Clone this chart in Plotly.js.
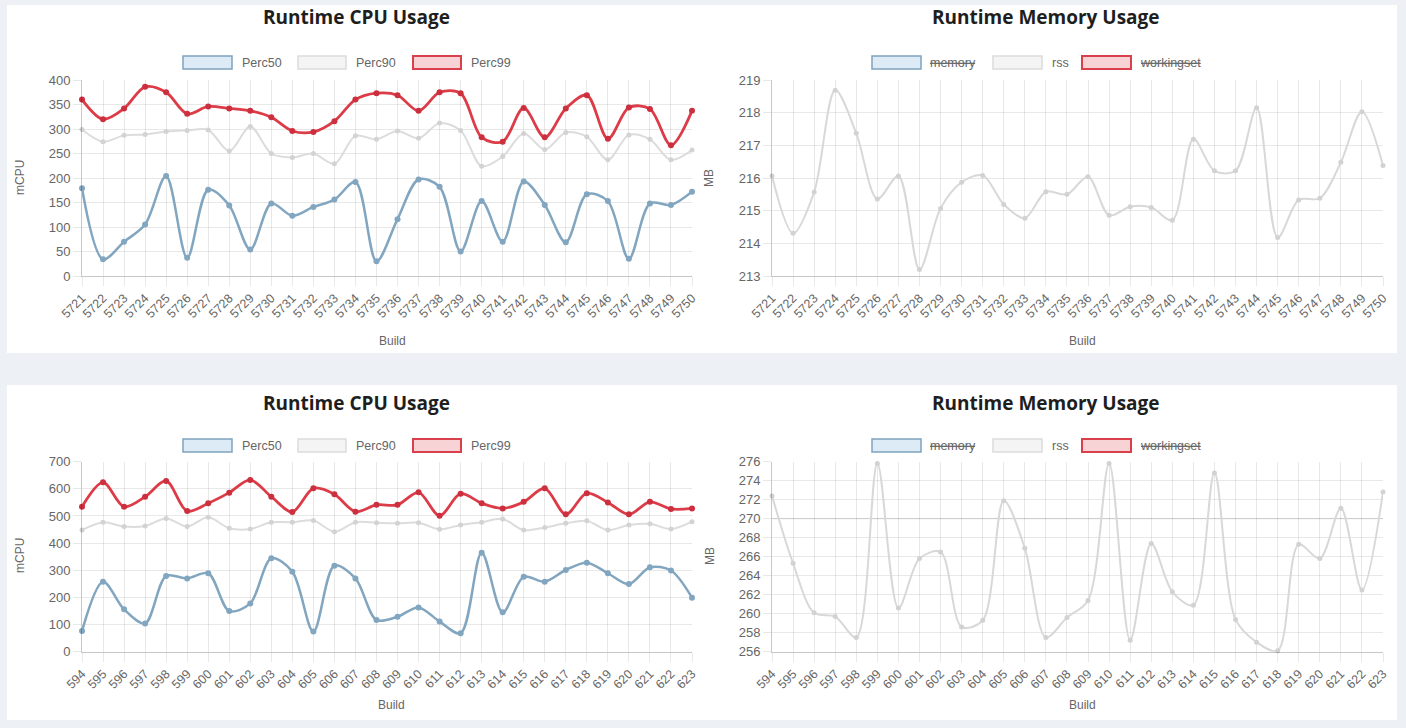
<!DOCTYPE html>
<html>
<head>
<meta charset="utf-8">
<script src="https://cdn.plot.ly/plotly-3.0.1.min.js"></script>
<style>
  html, body { margin: 0; padding: 0; background: #edf1f6; }
  #chart { width: 1406px; height: 728px; }
</style>
</head>
<body>
<div id="chart"></div>
<script>
// ---------- Data ----------
const buildsTop = ['5721','5722','5723','5724','5725','5726','5727','5728','5729','5730',
                   '5731','5732','5733','5734','5735','5736','5737','5738','5739','5740',
                   '5741','5742','5743','5744','5745','5746','5747','5748','5749','5750'];
const buildsBottom = ['594','595','596','597','598','599','600','601','602','603',
                      '604','605','606','607','608','609','610','611','612','613',
                      '614','615','616','617','618','619','620','621','622','623'];

const cpuTopPerc50 = [179, 34, 70, 105, 204, 37, 176, 144, 54, 148,
                      123, 141, 156, 192, 30, 116, 197, 182, 50, 153,
                      70, 193, 145, 69, 167, 153, 35, 148, 145, 172];
const cpuTopPerc90 = [299, 274, 287, 289, 295, 297, 298, 255, 305, 250,
                      242, 250, 229, 286, 279, 296, 281, 312, 297, 224,
                      244, 291, 258, 293, 284, 237, 288, 279, 237, 257];
const cpuTopPerc99 = [360, 320, 342, 386, 375, 331, 346, 342, 337, 324,
                      296, 294, 316, 360, 373, 369, 337, 375, 373, 283,
                      274, 343, 283, 342, 369, 280, 344, 341, 267, 337];

const memTopRss = [216.06, 214.31, 215.57, 218.69, 217.37, 215.36, 216.06, 213.2, 215.07, 215.87,
                   216.08, 215.19, 214.77, 215.58, 215.5, 216.04, 214.86, 215.12, 215.1, 214.71,
                   217.19, 216.22, 216.22, 218.15, 214.18, 215.33, 215.38, 216.48, 218.03, 216.38];

const cpuBottomPerc50 = [76, 258, 156, 104, 279, 270, 289, 150, 178, 344,
                         295, 74, 317, 270, 117, 129, 163, 111, 68, 365,
                         145, 276, 258, 301, 328, 289, 249, 311, 299, 199];
const cpuBottomPerc90 = [448, 477, 461, 463, 491, 461, 495, 455, 452, 477,
                         477, 483, 442, 477, 475, 473, 475, 451, 467, 477,
                         489, 448, 458, 473, 482, 448, 467, 471, 452, 479];
const cpuBottomPerc99 = [534, 624, 534, 571, 629, 518, 547, 586, 633, 571,
                         515, 602, 580, 516, 541, 541, 587, 501, 582, 547,
                         528, 552, 602, 506, 584, 550, 506, 552, 526, 528];

const memBottomRss = [272.4, 265.3, 260.1, 259.7, 257.5, 275.8, 260.6, 265.8, 266.5, 258.6,
                      259.3, 271.9, 266.9, 257.5, 259.6, 261.4, 275.8, 257.2, 267.4, 262.3,
                      260.9, 274.8, 259.4, 257.0, 256.1, 267.3, 265.8, 271.1, 262.5, 272.8];

const cpuSeriesNames = ['Perc50', 'Perc90', 'Perc99'];
const memSeriesNames = ['memory', 'rss', 'workingset'];

// ---------- Styling ----------
const W = 1406, H = 728;
const px = x => x / W;
const py = y => 1 - y / H;

const C_BLUE = '#82a6c0', C_GRAY = '#dcdcdc', C_RED = '#dc3b48';
const C_RED_PT = '#cc2f3e';
const FONT = 'Liberation Sans, Arial, sans-serif';
const TICKCOL = '#666';
const GRID = 'rgba(0,0,0,0.09)';

function line(x, y, color, width, mcolor, msize, xa, ya, name) {
  return {
    type: 'scatter', mode: 'lines+markers', x: x, y: y, name: name,
    xaxis: xa, yaxis: ya, showlegend: false, cliponaxis: false,
    line: { color: color, width: width, shape: 'spline', smoothing: 0.9 },
    marker: { color: mcolor, size: msize },
    hoverinfo: 'x+y+name'
  };
}

const data = [
  line(buildsTop, cpuTopPerc90, C_GRAY, 2, '#d3d3d3', 5, 'x', 'y', cpuSeriesNames[1]),
  line(buildsTop, cpuTopPerc50, C_BLUE, 2.5, C_BLUE, 6, 'x', 'y', cpuSeriesNames[0]),
  line(buildsTop, cpuTopPerc99, C_RED, 2.8, C_RED_PT, 6, 'x', 'y', cpuSeriesNames[2]),
  line(buildsTop, memTopRss, '#d8d8d8', 2, '#d2d2d2', 5, 'x2', 'y2', memSeriesNames[1]),
  line(buildsBottom, cpuBottomPerc90, C_GRAY, 2, '#d3d3d3', 5, 'x3', 'y3', cpuSeriesNames[1]),
  line(buildsBottom, cpuBottomPerc50, C_BLUE, 2.5, C_BLUE, 6, 'x3', 'y3', cpuSeriesNames[0]),
  line(buildsBottom, cpuBottomPerc99, C_RED, 2.8, C_RED_PT, 6, 'x3', 'y3', cpuSeriesNames[2]),
  line(buildsBottom, memBottomRss, '#d8d8d8', 2, '#d2d2d2', 5, 'x4', 'y4', memSeriesNames[1])
];

function xax(dom, anchor) {
  return {
    domain: dom, anchor: anchor, type: 'category', range: [0, 29],
    showgrid: true, gridcolor: GRID, gridwidth: 1,
    ticks: 'outside', ticklen: 9, tickcolor: GRID, tickwidth: 1,
    showline: true, linecolor: 'rgba(0,0,0,0.22)', linewidth: 1,
    tickangle: -45, tickfont: { family: FONT, size: 12.5, color: TICKCOL },
    zeroline: false, fixedrange: true
  };
}
function yax(dom, anchor, range, dtick) {
  return {
    domain: dom, anchor: anchor, range: range, dtick: dtick, tick0: range[0],
    showgrid: true, gridcolor: GRID, gridwidth: 1,
    ticks: 'outside', ticklen: 8, tickcolor: GRID, tickwidth: 1,
    showline: true, linecolor: 'rgba(0,0,0,0.22)', linewidth: 1,
    tickfont: { family: FONT, size: 13, color: TICKCOL },
    zeroline: false, fixedrange: true
  };
}

const xdomL = [px(82), px(692)], xdomR = [px(772), px(1383)];
const ydomT = [py(276), py(80)], ydomB = [py(651.7), py(461.7)];

const shapes = [
  { type: 'rect', xref: 'paper', yref: 'paper', x0: px(7), x1: px(1397), y0: py(353), y1: py(5),
    fillcolor: '#ffffff', line: { width: 0 }, layer: 'below' },
  { type: 'rect', xref: 'paper', yref: 'paper', x0: px(7), x1: px(1397), y0: py(720), y1: py(385),
    fillcolor: '#ffffff', line: { width: 0 }, layer: 'below' },
  { type: 'line', xref: 'x4', yref: 'y4', x0: 0, x1: 29, y0: 270, y1: 270,
    line: { color: 'rgba(0,0,0,0.14)', width: 1 }, layer: 'below' }
];

const annotations = [];
function txt(x, y, text, opts) {
  annotations.push(Object.assign({
    xref: 'paper', yref: 'paper', x: px(x), y: py(y), text: text, showarrow: false,
    xanchor: 'center', yanchor: 'middle',
    font: { family: FONT, size: 12, color: TICKCOL }
  }, opts || {}));
}
function legendBox(x0, x1, yc, fill, border, bw) {
  shapes.push({ type: 'rect', xref: 'paper', yref: 'paper',
    x0: px(x0), x1: px(x1), y0: py(yc + 6.5), y1: py(yc - 6.5),
    fillcolor: fill, line: { color: border, width: bw } });
}

// Titles
const titleFont = { family: 'Open Sans, Lato, sans-serif', size: 19, color: '#1e1e1e' };
txt(356, 17, '<b>Runtime CPU Usage</b>', { font: titleFont });
txt(1046, 17, '<b>Runtime Memory Usage</b>', { font: titleFont });
txt(356, 403, '<b>Runtime CPU Usage</b>', { font: titleFont });
txt(1046, 403, '<b>Runtime Memory Usage</b>', { font: titleFont });

// Axis titles
const axFont = { family: FONT, size: 12, color: TICKCOL };
txt(20, 178, 'mCPU', { textangle: -90, font: axFont });
txt(709, 178, 'MB', { textangle: -90, font: axFont });
txt(20, 556, 'mCPU', { textangle: -90, font: axFont });
txt(710, 556, 'MB', { textangle: -90, font: axFont });
txt(392, 341, 'Build', { font: axFont });
txt(1082, 341, 'Build', { font: axFont });
txt(391, 705, 'Build', { font: axFont });
txt(1082, 705, 'Build', { font: axFont });

// Legends
const legFont = { family: FONT, size: 12.5, color: TICKCOL };
[62.5, 445.5].forEach(yc => {
  legendBox(183, 232, yc, '#dcebf6', '#7fa4be', 1.5);
  txt(240, yc, cpuSeriesNames[0], { xanchor: 'left', font: legFont });
  legendBox(298, 346, yc, '#f4f4f4', '#dcdcdc', 1.5);
  txt(354, yc, cpuSeriesNames[1], { xanchor: 'left', font: legFont });
  legendBox(413, 461, yc, '#f7d3d6', '#d9404c', 2);
  txt(469, yc, cpuSeriesNames[2], { xanchor: 'left', font: legFont });

  legendBox(872, 921, yc, '#dcebf6', '#7fa4be', 1.5);
  txt(928, yc, '<s>' + memSeriesNames[0] + '</s>', { xanchor: 'left', font: legFont });
  legendBox(993, 1042, yc, '#f4f4f4', '#dcdcdc', 1.5);
  txt(1050, yc, memSeriesNames[1], { xanchor: 'left', font: legFont });
  legendBox(1082, 1131, yc, '#f7d3d6', '#d9404c', 2);
  txt(1138, yc, '<s>' + memSeriesNames[2] + '</s>', { xanchor: 'left', font: legFont });
});

const layout = {
  width: W, height: H,
  margin: { l: 0, r: 0, t: 0, b: 0, pad: 0 },
  paper_bgcolor: '#edf1f6', plot_bgcolor: 'rgba(0,0,0,0)',
  showlegend: false,
  xaxis: xax(xdomL, 'y'),
  yaxis: yax(ydomT, 'x', [0, 400], 50),
  xaxis2: xax(xdomR, 'y2'),
  yaxis2: yax(ydomT, 'x2', [213, 219], 1),
  xaxis3: xax(xdomL, 'y3'),
  yaxis3: yax(ydomB, 'x3', [0, 700], 100),
  xaxis4: xax(xdomR, 'y4'),
  yaxis4: yax(ydomB, 'x4', [256, 276], 2),
  shapes: shapes,
  annotations: annotations
};

Plotly.newPlot('chart', data, layout, { displayModeBar: false, staticPlot: true });
</script>
</body>
</html>
